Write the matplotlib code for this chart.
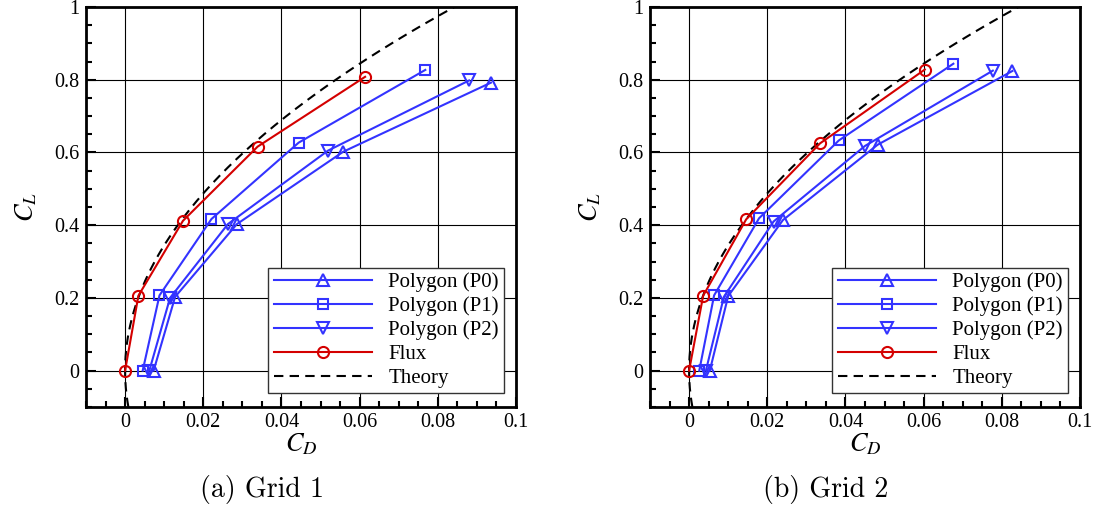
import numpy as np
import matplotlib
matplotlib.use("Agg")
import matplotlib.pyplot as plt
from matplotlib.ticker import FixedLocator, MultipleLocator

plt.rcParams["font.family"] = ["Liberation Serif", "DejaVu Serif"]
plt.rcParams["mathtext.fontset"] = "stix"

# ---- drag polar data: lift vs drag coefficient ----
# Grid 1
g1_p0_cd = [0.0073, 0.0128, 0.0286, 0.0558, 0.0936]
g1_p0_cl = [0.000, 0.203, 0.403, 0.602, 0.792]
g1_p1_cd = [0.0045, 0.0088, 0.0221, 0.0444, 0.0768]
g1_p1_cl = [0.000, 0.207, 0.417, 0.627, 0.827]
g1_p2_cd = [0.0062, 0.0115, 0.0263, 0.0519, 0.0880]
g1_p2_cl = [0.000, 0.200, 0.403, 0.605, 0.798]
g1_flux_cd = [0.0000, 0.0034, 0.0148, 0.0339, 0.0614]
g1_flux_cl = [0.000, 0.206, 0.412, 0.616, 0.808]

# Grid 2
g2_p0_cd = [0.0053, 0.0100, 0.0240, 0.0482, 0.0827]
g2_p0_cl = [0.000, 0.205, 0.414, 0.621, 0.824]
g2_p1_cd = [0.0026, 0.0064, 0.0179, 0.0383, 0.0676]
g2_p1_cl = [0.000, 0.207, 0.419, 0.633, 0.844]
g2_p2_cd = [0.0043, 0.0089, 0.0216, 0.0450, 0.0777]
g2_p2_cl = [0.000, 0.203, 0.410, 0.618, 0.825]
g2_flux_cd = [0.0000, 0.0036, 0.0146, 0.0335, 0.0603]
g2_flux_cl = [0.000, 0.206, 0.416, 0.625, 0.828]

# Lifting-line theory: CD = CL^2 / (pi * AR)
aspect_ratio = 3.78
theory_cl = np.linspace(-0.1, 1.05, 200)
theory_cd = theory_cl ** 2 / (np.pi * aspect_ratio)

x_ticks = [0.0, 0.02, 0.04, 0.06, 0.08, 0.1]
x_tick_labels = ["0", "0.02", "0.04", "0.06", "0.08", "0.1"]
y_ticks = [0.0, 0.2, 0.4, 0.6, 0.8, 1.0]
y_tick_labels = ["0", "0.2", "0.4", "0.6", "0.8", "1"]

series_labels = ["Polygon (P0)", "Polygon (P1)", "Polygon (P2)", "Flux", "Theory"]
captions = ["(a) Grid 1", "(b) Grid 2"]

BLUE = "#3333ff"
RED = "#d40000"

W, H = 1095, 511
fig = plt.figure(figsize=(W / 100, H / 100), dpi=100)

panels = [
    (86, (g1_p0_cd, g1_p0_cl), (g1_p1_cd, g1_p1_cl), (g1_p2_cd, g1_p2_cl), (g1_flux_cd, g1_flux_cl)),
    (650, (g2_p0_cd, g2_p0_cl), (g2_p1_cd, g2_p1_cl), (g2_p2_cd, g2_p2_cl), (g2_flux_cd, g2_flux_cl)),
]

for i, (left_px, p0, p1, p2, flux) in enumerate(panels):
    ax = fig.add_axes([left_px / W, 1 - 407 / H, 430 / W, 400 / H])
    ax.set_xlim(-0.01, 0.1)
    ax.set_ylim(-0.1, 1.0)

    ax.grid(True, which="major", color="black", linewidth=0.8)
    ax.set_axisbelow(True)

    mk = dict(markerfacecolor="none", markeredgewidth=1.5, linewidth=1.5)
    ax.plot(*p0, color=BLUE, marker="^", markersize=9, label=series_labels[0], zorder=3, **mk)
    ax.plot(*p1, color=BLUE, marker="s", markersize=7.5, label=series_labels[1], zorder=3, **mk)
    ax.plot(*p2, color=BLUE, marker="v", markersize=9, label=series_labels[2], zorder=3, **mk)
    ax.plot(theory_cd, theory_cl, color="black", linewidth=1.5, dashes=(4.5, 3.0),
            label=series_labels[4], zorder=2)
    ax.plot(*flux, color=RED, marker="o", markersize=8, label=series_labels[3], zorder=4, **mk)

    handles, labels = ax.get_legend_handles_labels()
    order = [labels.index(s) for s in series_labels]
    leg = ax.legend([handles[k] for k in order], [labels[k] for k in order],
                    loc="lower right", bbox_to_anchor=(0.972, 0.035),
                    fontsize=15, frameon=True, fancybox=False, framealpha=1,
                    edgecolor="#333333", handlelength=4.7, handletextpad=0.8,
                    labelspacing=0.2, borderpad=0.25, borderaxespad=0.0)
    leg.get_frame().set_linewidth(1.0)

    ax.xaxis.set_major_locator(FixedLocator(x_ticks))
    ax.set_xticklabels(x_tick_labels)
    ax.yaxis.set_major_locator(FixedLocator(y_ticks))
    ax.set_yticklabels(y_tick_labels)
    ax.xaxis.set_minor_locator(MultipleLocator(0.005))
    ax.yaxis.set_minor_locator(MultipleLocator(0.05))
    ax.tick_params(which="both", direction="in", top=False, right=False,
                   labelsize=14.5, width=1.5, color="black")
    ax.tick_params(which="major", length=7, pad=4.5)
    ax.tick_params(which="minor", length=4.5)
    for sp in ax.spines.values():
        sp.set_linewidth(2.0)

    ax.set_xlabel(r"$C_D$", fontsize=19)
    ax.xaxis.set_label_coords(0.5, -0.06)
    ax.xaxis.label.set_verticalalignment("top")
    ax.set_ylabel(r"$C_L$", fontsize=19)
    ax.yaxis.set_label_coords(-0.11, 0.5)

    cx = (left_px + 176) / W
    fig.text(cx, 1 - 489 / H, captions[i], fontsize=20, family="cmr10",
             ha="center", va="center")

fig.savefig("out.png", dpi=100)
